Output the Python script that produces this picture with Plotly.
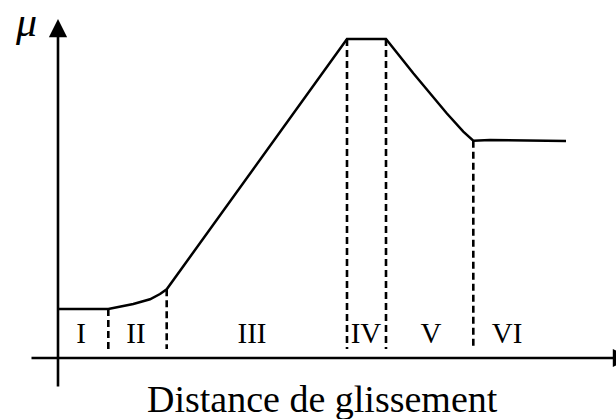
import plotly.graph_objects as go

# friction curve, in chart units (1 unit = 10 px of the drawing)
distance = [0, 5.03, 7.53, 9.2, 10.2, 10.87, 28.9, 32.8, 35.53, 38.87, 40.53, 41.53, 43.2, 50.8]
mu = [4.9, 4.9, 5.4, 5.87, 6.4, 6.87, 31.9, 31.9, 28.47, 24.47, 22.63, 21.73, 21.8, 21.7]

# limits between the phases (dashed lines)
limit_x = [5.03, 10.87, 28.9, 32.8, 41.53]
limit_top = [4.9, 6.87, 31.9, 31.9, 21.73]
limit_bottom = 0.9

# phase labels
phase_labels = ["I", "II", "III", "IV", "V", "VI"]
phase_x = [2.3, 7.8, 19.4, 30.8, 37.3, 44.9]
phase_y = 2.2

serif = "Liberation Serif, Times New Roman, serif"

fig = go.Figure()

fig.add_trace(
    go.Scatter(
        x=distance, y=mu, mode="lines",
        line=dict(color="black", width=2.5), hoverinfo="skip",
    )
)

for lx, top in zip(limit_x, limit_top):
    fig.add_trace(
        go.Scatter(
            x=[lx, lx], y=[top, limit_bottom], mode="lines",
            line=dict(color="black", width=2.6, dash="7px,4px"), hoverinfo="skip",
        )
    )

fig.add_trace(
    go.Scatter(
        x=phase_x, y=[phase_y] * len(phase_x), mode="text", text=phase_labels,
        textfont=dict(family=serif, size=29, color="black"), hoverinfo="skip",
    )
)

# axes drawn as arrows
fig.add_annotation(
    x=0, y=33.9, ax=0, ay=-3.0, xref="x", yref="y", axref="x", ayref="y",
    showarrow=True, arrowhead=2, arrowsize=1.4, arrowwidth=2.6, arrowcolor="black", text="",
)
fig.add_annotation(
    x=57.3, y=0, ax=-2.8, ay=0, xref="x", yref="y", axref="x", ayref="y",
    showarrow=True, arrowhead=2, arrowsize=1.4, arrowwidth=2.6, arrowcolor="black", text="",
)

fig.add_annotation(
    x=-3.2, y=33.6, xref="x", yref="y", showarrow=False, text="<i>μ</i>",
    font=dict(family=serif, size=42, color="black"),
)
fig.add_annotation(
    x=26.4, y=-4.1, xref="x", yref="y", showarrow=False, text="Distance de glissement",
    font=dict(family=serif, size=38, color="black"),
)

fig.update_xaxes(range=[-5.8, 55.8], visible=False, showgrid=False, zeroline=False)
fig.update_yaxes(range=[-6.1, 35.8], visible=False, showgrid=False, zeroline=False)
fig.update_layout(
    width=616, height=419, margin=dict(l=0, r=0, t=0, b=0),
    paper_bgcolor="white", plot_bgcolor="white", showlegend=False,
)

# drop the default page margin so the figure sits at the window corner
fig.write_html(
    "out.html",
    config={"displayModeBar": False},
    post_script="document.body.style.margin = '0';",
)
